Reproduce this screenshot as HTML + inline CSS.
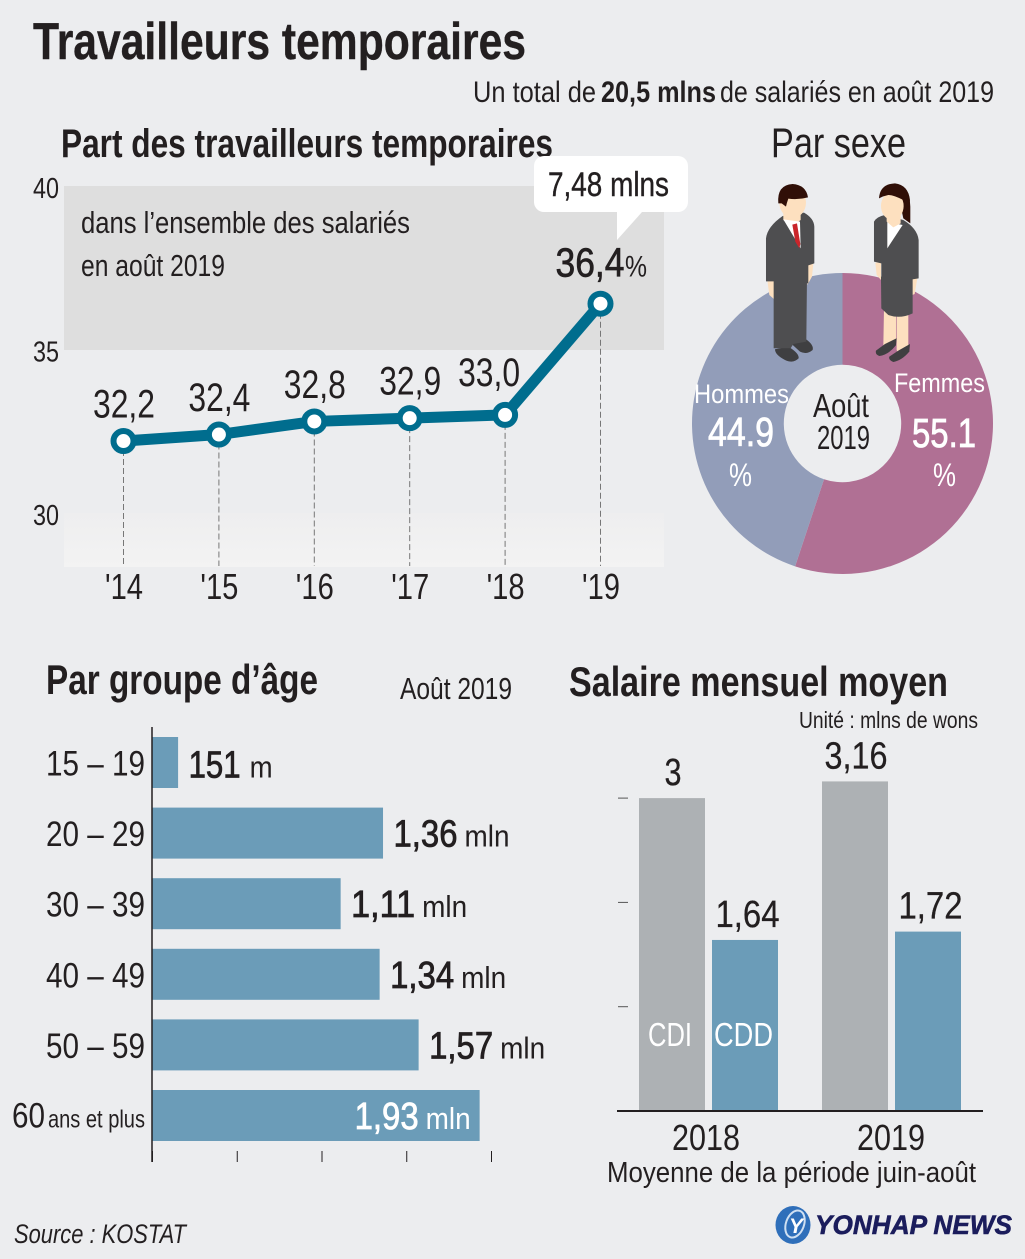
<!DOCTYPE html>
<html lang="fr">
<head>
<meta charset="utf-8">
<title>Travailleurs temporaires</title>
<style>
html,body{margin:0;padding:0;background:#ecedef;}
svg{display:block;font-family:"Liberation Sans",sans-serif;}
</style>
</head>
<body>
<svg id="chart" xmlns="http://www.w3.org/2000/svg" width="1025" height="1259" viewBox="0 0 1025 1259">
<rect width="1025" height="1259" fill="#ecedef"/>
<defs><linearGradient id="lowband" x1="0" y1="0" x2="0" y2="1"><stop offset="0" stop-color="#eeeeef"/><stop offset="1" stop-color="#f3f3f3"/></linearGradient></defs>

<text x="33" y="59" font-size="52" font-weight="700" fill="#231f20" stroke="#231f20" stroke-width=".4" textLength="493" lengthAdjust="spacingAndGlyphs">Travailleurs temporaires</text>
<text x="473" y="102" font-size="30" fill="#231f20" textLength="123" lengthAdjust="spacingAndGlyphs">Un total de</text>
<text x="601" y="102" font-size="30" font-weight="700" fill="#231f20" textLength="115" lengthAdjust="spacingAndGlyphs">20,5 mlns</text>
<text x="720" y="102" font-size="30" fill="#231f20" textLength="274" lengthAdjust="spacingAndGlyphs">de salariés en août 2019</text>

<text x="61" y="157" font-size="40" font-weight="700" fill="#231f20" textLength="492" lengthAdjust="spacingAndGlyphs">Part des travailleurs temporaires</text>
<rect x="64" y="186" width="600" height="164" fill="#dedede"/>
<rect x="64" y="513" width="600" height="54" fill="url(#lowband)"/>
<text x="81" y="233" font-size="31" fill="#231f20" textLength="329" lengthAdjust="spacingAndGlyphs">dans l’ensemble des salariés</text>
<text x="81" y="276" font-size="31" fill="#231f20" textLength="144" lengthAdjust="spacingAndGlyphs">en août 2019</text>
<g id="line-layer"></g>
<path d="M544,156H678a10,10 0 0 1 10,10V202a10,10 0 0 1 -10,10H642L617,240V212H544a10,10 0 0 1 -10,-10V166a10,10 0 0 1 10,-10Z" fill="#fff"/>
<text x="548" y="196" font-size="34" fill="#231f20" stroke="#231f20" stroke-width=".4" textLength="121" lengthAdjust="spacingAndGlyphs">7,48 mlns</text>

<text x="771" y="157" font-size="42" fill="#231f20" textLength="135" lengthAdjust="spacingAndGlyphs">Par sexe</text>
<g id="pie-layer"></g>

<g transform="translate(680,120) scale(.3333)">
  <path d="M335,672L378,658Q402,675 398,690Q380,705 360,695Z" fill="#3f3f41"/>
  <path d="M285,688L325,680Q358,700 356,715Q340,732 315,720Q285,705 285,688Z" fill="#3f3f41"/>
  <path d="M262,480L292,480L300,535L285,540L268,525ZM382,430L400,430L396,470L382,495Z" fill="#fde0bf"/>
  <path d="M281,470H381L379,665L340,672L332,685H281Z" fill="#4e4e50"/>
  <path d="M258,355Q262,320 308,288L372,278Q402,295 403,320V430L385,436V490L292,484H258Z" fill="#4e4e50"/>
  <path d="M310,262H362V300L335,320L310,300Z" fill="#fde0bf"/>
  <path d="M310,298L360,305L362,385Z" fill="#fff"/>
  <path d="M337,314L351,310L361,372L358,385L346,365Z" fill="#c9252b"/>
  <ellipse cx="338" cy="248" rx="40" ry="46" fill="#fde0bf"/>
  <path d="M295,250Q290,195 338,192Q378,195 384,232Q355,240 325,236Q320,250 318,260L305,250Z" fill="#300f07"/>
</g>
<g transform="translate(680,120) scale(.3333)">
  <path d="M650,200Q690,210 691,260L691,310L670,295Z" fill="#300f07"/>
  <path d="M612,570H648V665L625,690L610,680ZM650,575H685V680L655,700L650,690Z" fill="#fde0bf"/>
  <path d="M615,672L650,655L648,676Q625,705 598,708Q585,703 588,692Z" fill="#3f3f41"/>
  <path d="M655,692L690,672L688,695Q665,722 640,726Q625,720 628,710Z" fill="#3f3f41"/>
  <path d="M586,428H603V480L590,465ZM682,475H712L704,522L685,530L678,515Z" fill="#fde0bf"/>
  <path d="M603,470H698V580Q660,598 625,585L604,565Z" fill="#4e4e50"/>
  <path d="M582,305Q590,290 615,285L670,300Q712,325 716,360V475L685,480V490H604V430L582,425Z" fill="#4e4e50"/>
  <path d="M622,305L668,315L622,385Z" fill="#fff"/>
  <ellipse cx="637" cy="258" rx="34" ry="42" fill="#fde0bf"/>
  <path d="M620,285H662V310L640,322L620,305Z" fill="#fde0bf"/>
  <path d="M597,235Q600,192 645,190Q685,195 690,240Q690,250 688,262L670,240Q640,225 625,225Q610,228 597,235Z" fill="#300f07"/>
</g>

<text x="694" y="403" font-size="27" fill="#fff" textLength="95" lengthAdjust="spacingAndGlyphs">Hommes</text>
<text x="729" y="486" font-size="32" fill="#fff" textLength="23" lengthAdjust="spacingAndGlyphs">%</text>
<text x="894" y="392" font-size="27" fill="#fff" textLength="91" lengthAdjust="spacingAndGlyphs">Femmes</text>
<text x="933" y="486" font-size="32" fill="#fff" textLength="23" lengthAdjust="spacingAndGlyphs">%</text>
<text x="813" y="417" font-size="33" fill="#231f20" textLength="56" lengthAdjust="spacingAndGlyphs">Août</text>
<text x="817" y="449" font-size="33" fill="#231f20" textLength="53" lengthAdjust="spacingAndGlyphs">2019</text>

<text x="46" y="694" font-size="42" font-weight="700" fill="#231f20" textLength="272" lengthAdjust="spacingAndGlyphs">Par groupe d’âge</text>
<text x="400" y="699" font-size="31" fill="#231f20" textLength="112" lengthAdjust="spacingAndGlyphs">Août 2019</text>
<g id="age-layer"></g>

<text x="569" y="696" font-size="42" font-weight="700" fill="#231f20" textLength="379" lengthAdjust="spacingAndGlyphs">Salaire mensuel moyen</text>
<text x="799" y="728" font-size="23" fill="#231f20" textLength="179" lengthAdjust="spacingAndGlyphs">Unité : mlns de wons</text>
<g id="salary-layer"></g>
<text x="607" y="1182" font-size="29" fill="#231f20" textLength="369" lengthAdjust="spacingAndGlyphs">Moyenne de la période juin-août</text>

<text x="14" y="1243" font-size="27" font-style="italic" fill="#231f20" textLength="172" lengthAdjust="spacingAndGlyphs">Source : KOSTAT</text>
<g>
  <ellipse cx="793" cy="1225" rx="17.5" ry="19" fill="#2f6fba"/>
  <ellipse cx="795" cy="1224" rx="9" ry="14" fill="none" stroke="#cfe0f2" stroke-width="2" transform="rotate(20 795 1224)"/>
  <text x="789" y="1233" font-size="21" font-weight="700" font-style="italic" fill="#fff">Y</text>
  <text x="815" y="1234" font-size="27" font-weight="700" font-style="italic" fill="#1b1d5c" stroke="#1b1d5c" stroke-width=".6" textLength="197" lengthAdjust="spacingAndGlyphs">YONHAP NEWS</text>
</g>
</svg>

<script>
// Line chart data
const years = ["'14", "'15", "'16", "'17", "'18", "'19"];
const shareValues = [32.2, 32.4, 32.8, 32.9, 33.0, 36.4];
const shareTicks = [40, 35, 30];
// Donut data
const sexShares = [55.1, 44.9];
const sexColors = ['#b07094', '#929db9'];
// Age chart data (millions)
const ageGroups = ['15 – 19', '20 – 29', '30 – 39', '40 – 49', '50 – 59'];
const ageLastGroupNumber = '60';
const ageLastGroupSuffix = 'ans et plus';
const ageValues = [0.151, 1.36, 1.11, 1.34, 1.57, 1.93];
const ageTicks = [0, 0.5, 1, 1.5, 2];
// Salary chart data
const salaryYears = ['2018', '2019'];
const salaryCdi = [3, 3.16];
const salaryCdd = [1.64, 1.72];
const salaryTicks = [1, 2, 3];

const NS = 'http://www.w3.org/2000/svg';
const INK = '#231f20';

function make(parent, tag, name, attrs) {
  const el = document.createElementNS(NS, tag);
  
  
  for (const k in attrs) el.setAttribute(k, attrs[k]);
  parent.appendChild(el);
  return el;
}
function label(parent, name, str, x, y, size, width, opts) {
  const attrs = Object.assign({x: x, y: y, 'font-size': size, fill: INK, textLength: width, lengthAdjust: 'spacingAndGlyphs'}, opts || {});
  const el = make(parent, 'text', name, attrs);
  el.textContent = str;
  return el;
}
const comma = (v, d) => v.toFixed(d).replace('.', ',');

/* ---------- line chart ---------- */
const lineLayer = document.getElementById('line-layer');
const xLine = i => 123.5 + 95.4 * i;
const yLine = v => 513 - (v - 30) * 32.7;
shareTicks.forEach(t => {
  label(lineLayer, 'y-tick-' + t, String(t), 33, yLine(t) + 12, 29, 26);
});
shareValues.forEach((v, i) => {
  make(lineLayer, 'line', 'drop-line-' + years[i].slice(1), {x1: xLine(i), x2: xLine(i), y1: yLine(v), y2: 566, stroke: '#777', 'stroke-width': 1, 'stroke-dasharray': '6 3'});
  label(lineLayer, 'x-tick-' + years[i].slice(1), years[i], xLine(i) - 18.5, 599, 36, 38);
});
make(lineLayer, 'polyline', 'share-line', {points: shareValues.map((v, i) => xLine(i) + ',' + yLine(v)).join(' '), fill: 'none', stroke: '#006d8e', 'stroke-width': 11, 'stroke-linejoin': 'round'});
shareValues.forEach((v, i) => {
  make(lineLayer, 'circle', 'share-point-' + years[i].slice(1), {cx: xLine(i), cy: yLine(v), r: 10, fill: '#fff', stroke: '#006d8e', 'stroke-width': 6});
  const last = i === shareValues.length - 1;
  if (last) {
    label(lineLayer, 'share-value-' + years[i].slice(1), comma(v, 1), xLine(i) - 45, yLine(v) - 27, 41, 69, {stroke: INK, 'stroke-width': .7});
    label(lineLayer, 'share-value-percent', '%', xLine(i) + 24.5, yLine(v) - 27, 30, 22);
  } else {
    const dx = i === 4 ? -16 : 0.5;
    const dy = i === 4 ? 29 : 23.5;
    label(lineLayer, 'share-value-' + years[i].slice(1), comma(v, 1), xLine(i) + dx - 31, yLine(v) - dy, 40, 62);
  }
});

/* ---------- donut ---------- */
const pieLayer = document.getElementById('pie-layer');
const cx = 842.5, cy = 423.5, rOut = 150.5, rIn = 58.7;
const shareTotal = sexShares.reduce((a, b) => a + b, 0);
let acc = 0;
sexShares.forEach((s, i) => {
  const a0 = acc / shareTotal * 2 * Math.PI;
  acc += s;
  const a1 = acc / shareTotal * 2 * Math.PI;
  const pt = (r, a) => (cx + r * Math.sin(a)) + ',' + (cy - r * Math.cos(a));
  const large = a1 - a0 > Math.PI ? 1 : 0;
  make(pieLayer, 'path', i === 0 ? 'women-slice' : 'men-slice', {
    d: 'M' + pt(rOut, a0) + 'A' + rOut + ',' + rOut + ' 0 ' + large + ' 1 ' + pt(rOut, a1) +
       'L' + pt(rIn, a1) + 'A' + rIn + ',' + rIn + ' 0 ' + large + ' 0 ' + pt(rIn, a0) + 'Z',
    fill: sexColors[i]
  });
});
label(pieLayer, 'women-share', sexShares[0].toFixed(1), 912, 447, 41, 64, {fill: '#fff', stroke: '#fff', 'stroke-width': .8});
label(pieLayer, 'men-share', sexShares[1].toFixed(1), 708, 446, 41, 66, {fill: '#fff', stroke: '#fff', 'stroke-width': .8});

/* ---------- age bars ---------- */
const ageLayer = document.getElementById('age-layer');
const xAge = v => 152.5 + v * 169.5;
const yAge = i => 737 + i * 70.6;
const ageBarH = 51;
ageValues.forEach((v, i) => {
  make(ageLayer, 'rect', 'age-bar-' + (i + 1), {x: xAge(0), y: yAge(i), width: xAge(v) - xAge(0), height: ageBarH, fill: '#6b9cb8'});
  const base = yAge(i) + 38.5;
  if (i < ageGroups.length) {
    label(ageLayer, 'age-category-' + (i + 1), ageGroups[i], 46, base, 35, 99);
  } else {
    label(ageLayer, 'age-category-number', ageLastGroupNumber, 12, base - 1, 35, 33);
    label(ageLayer, 'age-category-suffix', ageLastGroupSuffix, 48, base - 1, 25, 97);
  }
  const small = v < 1;
  const inside = xAge(v) + 120 > 560;
  const numW = small ? 52 : 64;
  const unitW = small ? 23 : 45;
  const gap = small ? 9 : 7;
  const numX = inside ? xAge(v) - 125 : xAge(v) + 10.5;
  const color = inside ? '#fff' : INK;
  const numStr = small ? String(Math.round(v * 1000)) : comma(v, 2);
  const valueY = small ? base + 2 : base + 0.5;
  label(ageLayer, 'age-value-' + (i + 1), numStr, numX, valueY, 38, numW, {fill: color, stroke: color, 'stroke-width': .8});
  label(ageLayer, 'age-unit-' + (i + 1), small ? 'm' : 'mln', numX + numW + gap, valueY, 31, unitW, {fill: color});
});
make(ageLayer, 'line', 'age-axis', {x1: 152, x2: 152, y1: 727, y2: 1162, stroke: '#231f20', 'stroke-width': 1.5});
ageTicks.forEach(t => {
  make(ageLayer, 'line', 'age-tick-' + t, {x1: xAge(t), x2: xAge(t), y1: 1151, y2: 1162, stroke: '#231f20', 'stroke-width': 1});
});

/* ---------- salary bars ---------- */
const salLayer = document.getElementById('salary-layer');
const ySal = v => 1111 - v * 104.3;
const barW = 66;
const xGroup = i => 639 + i * 183;
salaryTicks.forEach(t => {
  make(salLayer, 'line', 'salary-tick-' + t, {x1: 618, x2: 628, y1: ySal(t), y2: ySal(t), stroke: '#555', 'stroke-width': 1});
});
salaryYears.forEach((yr, i) => {
  const x = xGroup(i);
  make(salLayer, 'rect', 'cdi-bar-' + yr, {x: x, y: ySal(salaryCdi[i]), width: barW, height: 1111 - ySal(salaryCdi[i]), fill: '#adb1b4'});
  make(salLayer, 'rect', 'cdd-bar-' + yr, {x: x + 73, y: ySal(salaryCdd[i]), width: barW, height: 1111 - ySal(salaryCdd[i]), fill: '#6b9cb8'});
  const cdiStr = Number.isInteger(salaryCdi[i]) ? String(salaryCdi[i]) : comma(salaryCdi[i], 2);
  const cdiW = cdiStr.length === 1 ? 17 : 63;
  label(salLayer, 'cdi-value-' + yr, cdiStr, x + 34 - cdiW / 2, ySal(salaryCdi[i]) - 13, 38, cdiW, {stroke: INK, 'stroke-width': .3});
  label(salLayer, 'cdd-value-' + yr, comma(salaryCdd[i], 2), x + 73 + 35.5 - 32, ySal(salaryCdd[i]) - 13, 38, 64, {stroke: INK, 'stroke-width': .3});
  label(salLayer, 'year-label-' + yr, yr, x + 33 + i * 2, 1150, 36, 68);
});
label(salLayer, 'cdi-label', 'CDI', 648, 1046, 33, 44, {fill: '#fff'});
label(salLayer, 'cdd-label', 'CDD', 714, 1046, 33, 59, {fill: '#fff'});
make(salLayer, 'line', 'salary-baseline', {x1: 617, x2: 983, y1: 1111, y2: 1111, stroke: '#231f20', 'stroke-width': 2});
</script>
</body>
</html>
